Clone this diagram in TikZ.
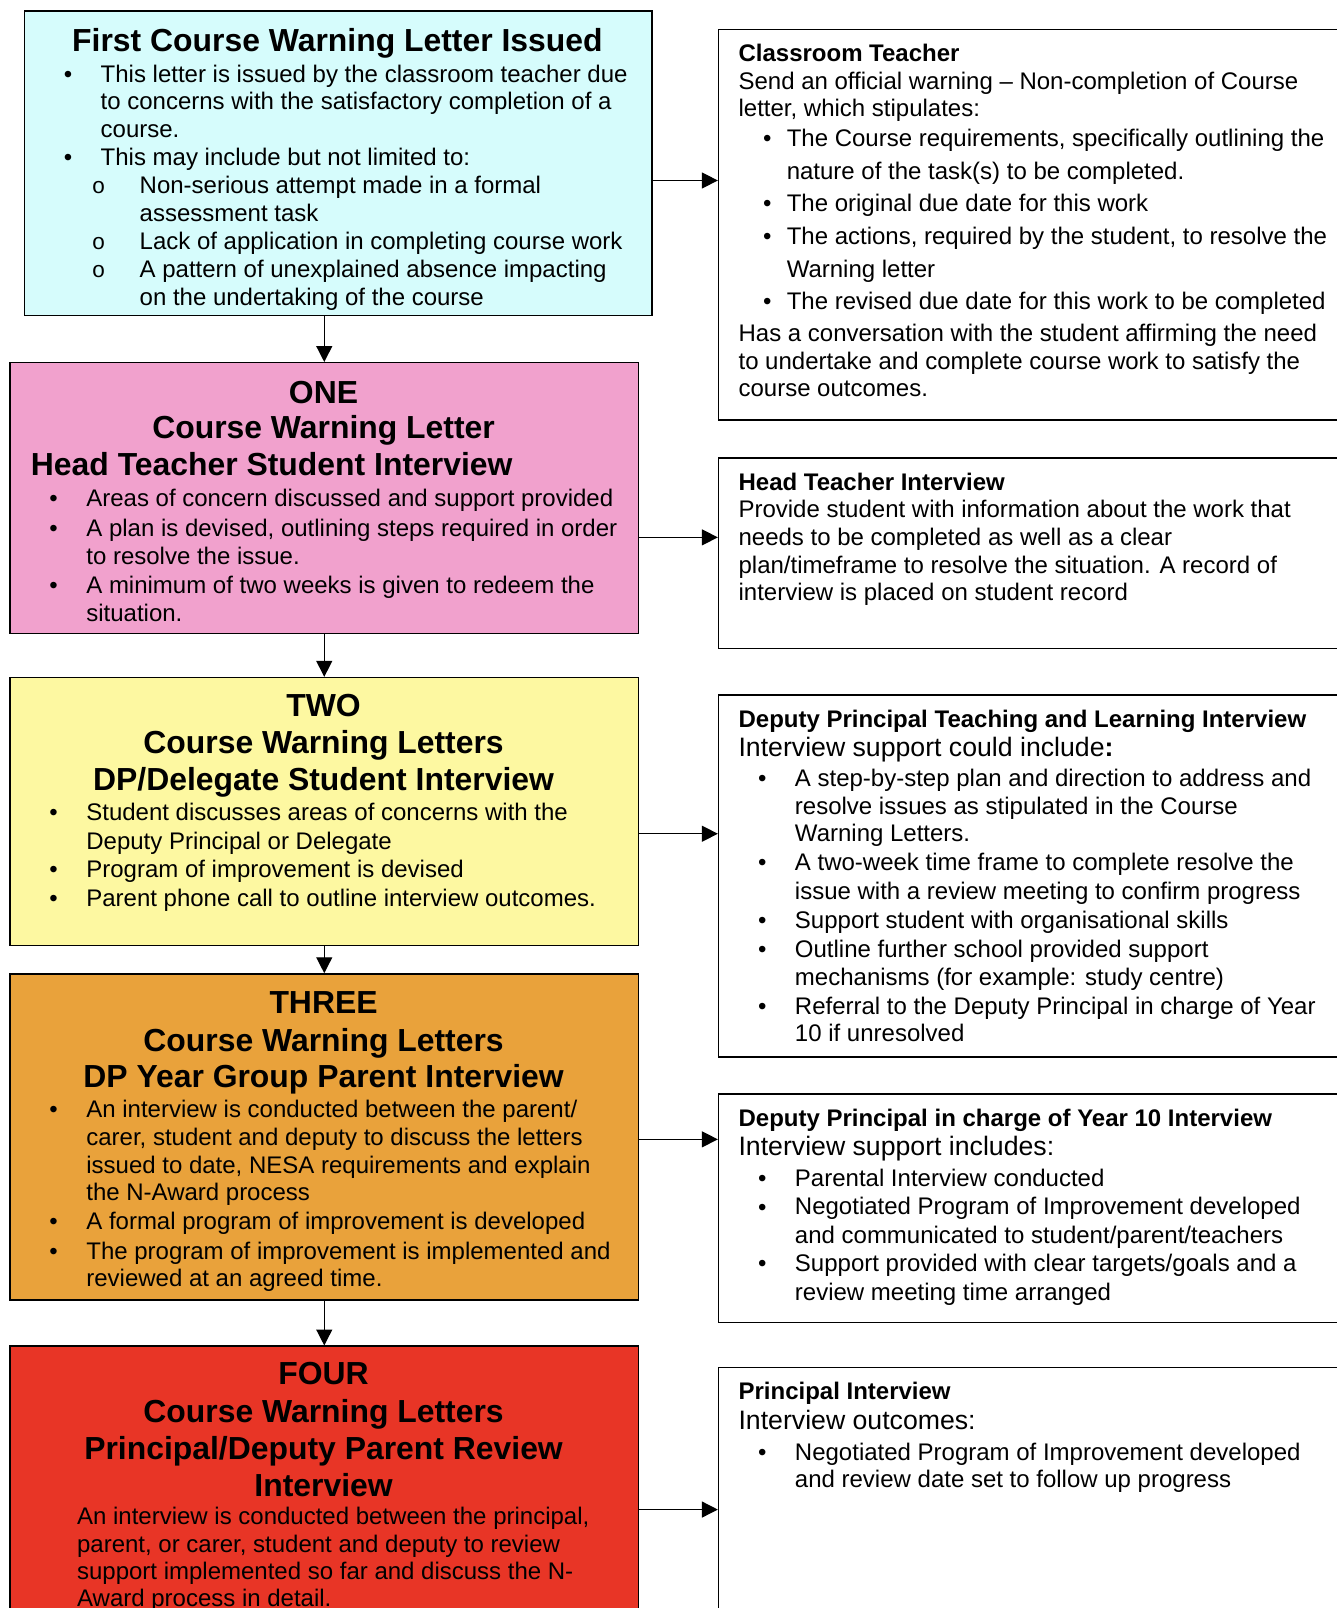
\documentclass[tikz,border=0pt]{standalone}
\usepackage{fontspec}
\setmainfont{Liberation Sans}
\newfontfamily\monofnt{Liberation Mono}
\usetikzlibrary{arrows.meta}
\definecolor{cbox}{HTML}{D6FCFC}
\definecolor{pbox}{HTML}{F1A1CD}
\definecolor{ybox}{HTML}{FDF8A1}
\definecolor{obox}{HTML}{E9A23B}
\definecolor{rdbox}{HTML}{E83526}
\tikzset{
 box/.style={draw=black, line width=1.4pt, anchor=north west, inner sep=0pt},
 rbox/.style={draw=black, line width=1.3pt, anchor=north west, fill=white, inner sep=0pt, minimum width=640},
 lt/.style={inner sep=0pt, anchor=base west, font=\fontsize{23.4}{27}\selectfont},
 ttl/.style={inner sep=0pt, anchor=base, font=\fontsize{31.1}{36}\selectfont\bfseries},
 hd/.style={lt, font=\fontsize{23.4}{27}\selectfont\bfseries},
 lg/.style={lt, font=\fontsize{26}{30}\selectfont},
 sub/.style={inner sep=0pt, anchor=base west, font=\fontsize{22}{26}\selectfont\monofnt},
 arr/.style={line width=1.3pt, -{Triangle[length=15.5pt,width=15.5pt]}},
}
\newcommand\Blk[5]{\foreach \t [count=\i from 0] in {#5}{\node[lt] (#1\i) at (#2,{#3+#4*\i}) {\t};}}
\begin{document}
\begin{tikzpicture}[x=1pt,y=-1pt]
\fill[white] (0,0) rectangle (1303,1568);
\useasboundingbox (0,0) rectangle (1303,1568);
% ---------- left boxes
\node[box, fill=cbox, minimum width=612, minimum height=297] (b1) at (23,10) {};
\node[box, fill=pbox, minimum width=613, minimum height=264] (pk) at (9,353) {};
\node[box, fill=ybox, minimum width=613, minimum height=261] (yl) at (9,660) {};
\node[box, fill=obox, minimum width=613, minimum height=318] (or) at (9,949) {};
\node[box, fill=rdbox, minimum width=613, minimum height=320] (rd) at (9,1312) {};
% ---------- right boxes
\node[rbox, minimum height=381] (r1) at (700,28) {};
\node[rbox, minimum height=186] (r2) at (700,446) {};
\node[rbox, minimum height=353] (r3) at (700,677) {};
\node[rbox, minimum height=223] (r4) at (700,1066) {};
\node[rbox, minimum height=300] (r5) at (700,1333) {};
% ---------- arrows
\draw[arr] (b1.south -| pk.north) -- (pk.north);
\draw[arr] (pk.south) -- (yl.north);
\draw[arr] (yl.south) -- (or.north);
\draw[arr] (or.south) -- (rd.north);
\coordinate (a1) at (0,176);
\coordinate (a2) at (0,524);
\coordinate (a3) at (0,813);
\coordinate (a4) at (0,1111);
\coordinate (a5) at (0,1472);
\draw[arr] (b1.east |- a1) -- (r1.west |- a1);
\draw[arr] (pk.east |- a2) -- (r2.west |- a2);
\draw[arr] (yl.east |- a3) -- (r3.west |- a3);
\draw[arr] (or.east |- a4) -- (r4.west |- a4);
\draw[arr] (rd.east |- a5) -- (r5.west |- a5);
% ---------- box 1 text
\node[ttl] (b1t) at (329,50) {First Course Warning Letter Issued};
\node[lt] (b1d1) at (62,80) {•};
\node[lt] (b1d2) at (62,161.6) {•};
\Blk{b1a}{98}{80}{27.2}{{This letter is issued by the classroom teacher due},{to concerns with the satisfactory completion of a},{course.},{This may include but not limited to:}}
\node[sub] (b1o1) at (89.5,188.8) {o};
\node[sub] (b1o2) at (89.5,243.2) {o};
\node[sub] (b1o3) at (89.5,270.4) {o};
\Blk{b1b}{136}{188.8}{27.2}{{Non-serious attempt made in a formal},{assessment task},{Lack of application in completing course work},{A pattern of unexplained absence impacting},{on the undertaking of the course}}
% ---------- ONE
\node[ttl] (pkt1) at (315.5,393) {ONE};
\node[ttl] (pkt2) at (315.5,428) {Course Warning Letter};
\node[ttl, anchor=base west] (pkt3) at (30,464) {Head Teacher Student Interview};
\node[lt] (pkd1) at (48,494) {•};
\node[lt] (pkd2) at (48,523) {•};
\node[lt] (pkd3) at (48,579) {•};
\Blk{pka}{84}{494}{27}{{Areas of concern discussed and support provided}}
\Blk{pkb}{84}{523}{27}{{A plan is devised, outlining steps required in order},{to resolve the issue.}}
\Blk{pkc}{84}{579}{27}{{A minimum of two weeks is given to redeem the},{situation.}}
% ---------- TWO
\node[ttl] (ylt1) at (315.5,699) {TWO};
\node[ttl] (ylt2) at (315.5,735) {Course Warning Letters};
\node[ttl] (ylt3) at (315.5,771) {DP/Delegate Student Interview};
\node[lt] (yld1) at (48,800) {•};
\node[lt] (yld2) at (48,856) {•};
\node[lt] (yld3) at (48,884) {•};
\Blk{yla}{84}{800}{28}{{Student discusses areas of concerns with the},{Deputy Principal or Delegate},{Program of improvement is devised},{Parent phone call to outline interview outcomes.}}
% ---------- THREE
\node[ttl] (ort1) at (315.5,988) {THREE};
\node[ttl] (ort2) at (315.5,1025) {Course Warning Letters};
\node[ttl] (ort3) at (315.5,1060) {DP Year Group Parent Interview};
\node[lt] (ord1) at (48,1090) {•};
\node[lt] (ord2) at (48,1199) {•};
\node[lt] (ord3) at (48,1228) {•};
\Blk{ora}{84}{1090}{27}{{An interview is conducted between the parent/},{carer, student and deputy to discuss the letters},{issued to date, NESA requirements and explain},{the N-Award process}}
\Blk{orb}{84}{1199}{27}{{A formal program of improvement is developed}}
\Blk{orc}{84}{1228}{26.5}{{The program of improvement is implemented and},{reviewed at an agreed time.}}
% ---------- FOUR
\node[ttl] (rdt1) at (315.5,1350) {FOUR};
\node[ttl] (rdt2) at (315.5,1387) {Course Warning Letters};
\node[ttl] (rdt3) at (315.5,1423) {Principal/Deputy Parent Review};
\node[ttl] (rdt4) at (315.5,1459) {Interview};
\Blk{rda}{75}{1487}{26.5}{{An interview is conducted between the principal,},{parent, or carer, student and deputy to review},{support implemented so far and discuss the N-},{Award process in detail.}}
% ---------- R1
\node[hd] (r1h) at (720,60) {Classroom Teacher};
\Blk{r1a}{720}{87}{27}{{Send an official warning – Non-completion of Course},{letter, which stipulates:}}
\node[lt] (r1d1) at (744,143) {•};
\node[lt] (r1d2) at (744,206) {•};
\node[lt] (r1d3) at (744,238) {•};
\node[lt] (r1d4) at (744,302) {•};
\Blk{r1b}{767}{143}{31.8}{{The Course requirements, specifically outlining the},{nature of the task(s) to be completed.},{The original due date for this work},{The actions, required by the student, to resolve the},{Warning letter},{The revised due date for this work to be completed}}
\Blk{r1c}{720}{333}{27}{{Has a conversation with the student affirming the need},{to undertake and complete course work to satisfy the},{course outcomes.}}
% ---------- R2
\node[hd] (r2h) at (720,478) {Head Teacher Interview};
\Blk{r2a}{720}{505}{27}{{Provide student with information about the work that},{needs to be completed as well as a clear},{plan/timeframe to resolve the situation. A record of},{interview is placed on student record}}
% ---------- R3
\node[hd] (r3h) at (720,709) {Deputy Principal Teaching and Learning Interview};
\node[lg] (r3l) at (720,738) {Interview support could include\textbf{:}};
\node[lt] (r3d1) at (739,767) {•};
\node[lt] (r3d2) at (739,849) {•};
\node[lt] (r3d3) at (739,905) {•};
\node[lt] (r3d4) at (739,934) {•};
\node[lt] (r3d5) at (739,989) {•};
\Blk{r3a}{775}{767}{27}{{A step-by-step plan and direction to address and},{resolve issues as stipulated in the Course},{Warning Letters.}}
\Blk{r3b}{775}{849}{28}{{A two-week time frame to complete resolve the},{issue with a review meeting to confirm progress},{Support student with organisational skills}}
\Blk{r3c}{775}{934}{27}{{Outline further school provided support},{mechanisms (for example: study centre)}}
\Blk{r3e}{775}{989}{27}{{Referral to the Deputy Principal in charge of Year},{10 if unresolved}}
% ---------- R4
\node[hd] (r4h) at (720,1098) {Deputy Principal in charge of Year 10 Interview};
\node[lg] (r4l) at (720,1127) {Interview support includes:};
\node[lt] (r4d1) at (739,1157) {•};
\node[lt] (r4d2) at (739,1185) {•};
\node[lt] (r4d3) at (739,1240) {•};
\Blk{r4a}{775}{1157}{27.7}{{Parental Interview conducted},{Negotiated Program of Improvement developed},{and communicated to student/parent/teachers},{Support provided with clear targets/goals and a},{review meeting time arranged}}
% ---------- R5
\node[hd] (r5h) at (720,1365) {Principal Interview};
\node[lg] (r5l) at (720,1394) {Interview outcomes:};
\node[lt] (r5d1) at (739,1424) {•};
\Blk{r5a}{775}{1424}{26.5}{{Negotiated Program of Improvement developed},{and review date set to follow up progress}}
\end{tikzpicture}
\end{document}
